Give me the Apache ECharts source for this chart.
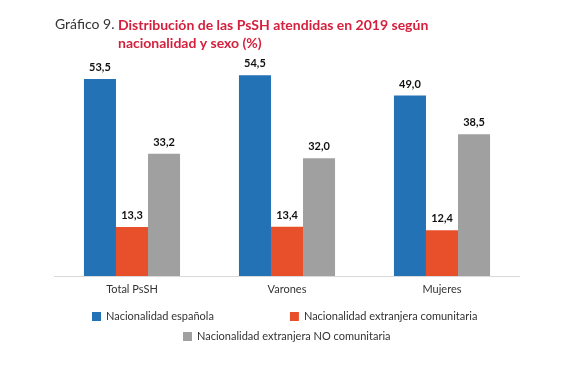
<!DOCTYPE html>
<html>
<head>
<meta charset="utf-8">
<script src="https://cdn.jsdelivr.net/npm/echarts@6/dist/echarts.min.js"></script>
<style>
  html, body { margin: 0; padding: 0; background: #fff; }
  #chart { width: 574px; height: 376px; }
</style>
</head>
<body>
<div id="chart"></div>
<script>
  const categories = ['Total PsSH', 'Varones', 'Mujeres'];
  const espanola = [53.5, 54.5, 49.0];
  const comunitaria = [13.3, 13.4, 12.4];
  const noComunitaria = [33.2, 32.0, 38.5];
  const seriesNames = ['Nacionalidad española', 'Nacionalidad extranjera comunitaria', 'Nacionalidad extranjera NO comunitaria'];
  const colorList = ['#2472b6', '#e8502c', '#a0a0a0'];

  const font = 'Lato, "Open Sans", sans-serif';
  const myChart = echarts.init(document.getElementById('chart'));

  const label = {
    show: true,
    position: 'top',
    distance: 6,
    color: '#111',
    fontWeight: 'bold',
    fontSize: 11,
    fontFamily: font,
    formatter: (p) => p.value.toFixed(1).replace('.', ',')
  };

  const option = {
    color: colorList,
    animation: false,
    title: [
      {
        text: 'Gráfico 9.',
        left: 55, top: 17, padding: 0,
        textStyle: { color: '#333', fontWeight: 'normal', fontSize: 14, fontFamily: font }
      },
      {
        text: 'Distribución de las PsSH atendidas en 2019 según\nnacionalidad y sexo (%)',
        left: 118, top: 16, padding: 0,
        textStyle: { color: '#d41f3d', fontWeight: 'bold', fontSize: 14, lineHeight: 18, fontFamily: font }
      }
    ],
    legend: [
      {
        data: seriesNames.slice(0, 2),
        left: 92, top: 311, padding: 0,
        itemWidth: 9, itemHeight: 9, itemGap: 76,
        icon: 'rect',
        textStyle: { color: '#333', fontSize: 11, fontFamily: font }
      },
      {
        data: seriesNames.slice(2),
        left: 183, top: 331, padding: 0,
        itemWidth: 9, itemHeight: 9,
        icon: 'rect',
        textStyle: { color: '#333', fontSize: 11, fontFamily: font }
      }
    ],
    grid: { left: 54.5, right: 54.5, top: 55, bottom: 100 },
    xAxis: {
      type: 'category',
      data: categories,
      axisLine: { lineStyle: { color: '#d9d9d9', width: 1 } },
      axisTick: { show: false },
      axisLabel: { color: '#333', fontSize: 11, fontFamily: font, margin: 8 }
    },
    yAxis: {
      type: 'value',
      min: 0, max: 60,
      show: false,
      splitLine: { show: false }
    },
    series: [
      { name: seriesNames[0], type: 'bar', data: espanola, barGap: '0%', barCategoryGap: '38%', label },
      { name: seriesNames[1], type: 'bar', data: comunitaria, label },
      { name: seriesNames[2], type: 'bar', data: noComunitaria, label }
    ]
  };

  myChart.setOption(option);
</script>
</body>
</html>
